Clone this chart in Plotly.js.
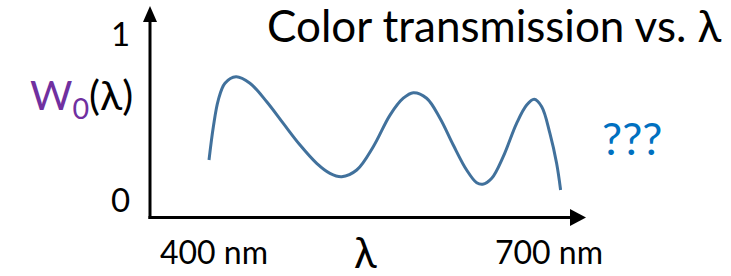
<!DOCTYPE html>
<html>
<head>
<meta charset="utf-8">
<script src="https://cdn.plot.ly/plotly-3.0.1.min.js"></script>
<style>html,body{margin:0;padding:0;background:#fff;}#chart{width:731px;height:276px;}</style>
</head>
<body>
<div id="chart"></div>
<script>
// Data
const wavelengths = [400, 403.7, 407.9, 413.6, 423.0, 434.9, 449.2, 463.3, 477.6, 491.8, 503.1, 513.1, 525.9, 540.0, 554.3, 565.6, 574.1, 585.5, 596.9, 608.2, 619.6, 628.2, 633.3, 641.0, 650.8, 662.2, 670.8, 677.2, 683.6, 690.6, 696.3, 699.7];
const transmission = [0.308, 0.488, 0.632, 0.723, 0.758, 0.723, 0.623, 0.506, 0.389, 0.290, 0.236, 0.218, 0.254, 0.380, 0.551, 0.642, 0.672, 0.642, 0.534, 0.389, 0.254, 0.185, 0.177, 0.209, 0.326, 0.506, 0.605, 0.636, 0.596, 0.452, 0.290, 0.146];
const xTickVals = [400, 700];
const xTickLabels = ['400 nm', '700 nm'];
const yTickVals = [0, 1];
const yTickLabels = ['0', '1'];
const titleText = 'Color transmission vs. λ';
const xLabel = 'λ';
const yLabel = '<span style="color:#7030A0">W<sub>0</sub></span>(λ)';
const noteText = '???';

const FONT = 'Lato, "Open Sans", sans-serif';
const xShifts = [5, -12];

// plot area in pixels: x 150..585, y 6..217
const L = 150, R = 585, T = 6, B = 217;
const px = v => (v - L) / (R - L);
const py = v => (B - v) / (B - T);

const shapes = [
  {type: 'line', xref: 'paper', yref: 'paper', x0: px(148.5), x1: px(572), y0: py(217.5), y1: py(217.5), line: {color: '#000', width: 3}},
  {type: 'path', xref: 'paper', yref: 'paper', fillcolor: '#000', line: {width: 0},
    path: `M${px(570)},${py(209)} L${px(586)},${py(217.5)} L${px(570)},${py(226)} Z`},
  {type: 'line', xref: 'paper', yref: 'paper', x0: px(150), x1: px(150), y0: py(219), y1: py(20), line: {color: '#000', width: 3}},
  {type: 'path', xref: 'paper', yref: 'paper', fillcolor: '#000', line: {width: 0},
    path: `M${px(143)},${py(22)} L${px(150)},${py(6)} L${px(157)},${py(22)} Z`}
];

const annotations = [];
// x tick labels
xTickVals.forEach((v, i) => annotations.push({xref: 'x', yref: 'y', x: v, y: 0, xshift: xShifts[i], yshift: -34.5,
  text: xTickLabels[i], showarrow: false, xanchor: 'center', yanchor: 'middle', font: {family: FONT, size: 32, color: '#000'}}));
// y tick labels
const yShifts = [18, -0.5];
yTickVals.forEach((v, i) => annotations.push({xref: 'paper', yref: 'y', x: 0, y: v, xshift: -18, yshift: yShifts[i],
  text: yTickLabels[i], showarrow: false, xanchor: 'right', yanchor: 'middle', font: {family: FONT, size: 33, color: '#000'}}));
// title
annotations.push({xref: 'paper', yref: 'paper', x: px(724), y: py(25), text: titleText, showarrow: false,
  xanchor: 'right', yanchor: 'middle', font: {family: FONT, size: 44, color: '#000'}});
// axis labels
annotations.push({xref: 'paper', yref: 'paper', x: px(365), y: py(252), text: xLabel, showarrow: false,
  xanchor: 'center', yanchor: 'middle', font: {family: FONT, size: 42, color: '#000'}});
annotations.push({xref: 'paper', yref: 'paper', x: px(135), y: py(97), text: yLabel, showarrow: false,
  xanchor: 'right', yanchor: 'middle', font: {family: FONT, size: 41, color: '#000'}});
annotations.push({xref: 'paper', yref: 'paper', x: px(631.5), y: py(138), text: noteText, showarrow: false,
  xanchor: 'center', yanchor: 'middle', font: {family: FONT, size: 45, color: '#0070C0'}});

const trace = {
  x: wavelengths, y: transmission, type: 'scatter', mode: 'lines',
  line: {color: '#41719C', width: 3, shape: 'spline', smoothing: 1.0},
  hoverinfo: 'skip'
};

const layout = {
  width: 731, height: 276,
  margin: {l: L, r: 731 - R, t: T, b: 276 - B, pad: 0},
  paper_bgcolor: '#fff', plot_bgcolor: '#fff',
  showlegend: false,
  xaxis: {range: [349.7, 720.5], showgrid: false, zeroline: false, showline: false, showticklabels: false, ticks: '', fixedrange: true},
  yaxis: {range: [0, 211 / 185], showgrid: false, zeroline: false, showline: false, showticklabels: false, ticks: '', fixedrange: true},
  shapes: shapes,
  annotations: annotations,
  font: {family: FONT}
};

Plotly.newPlot('chart', [trace], layout, {displayModeBar: false, staticPlot: true});
</script>
</body>
</html>
